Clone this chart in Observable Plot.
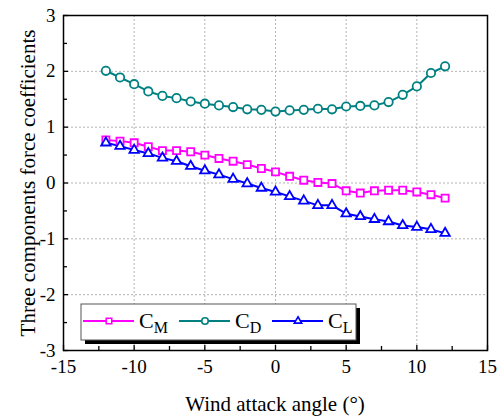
<!DOCTYPE html>
<html><head><meta charset="utf-8">
<script src="https://cdn.jsdelivr.net/npm/d3@7"></script>
<script src="https://cdn.jsdelivr.net/npm/@observablehq/plot@0.6"></script>
<style>
body{margin:0;background:#fff}
#chart{position:relative;width:501px;height:418px}
</style>
</head><body><div id="chart"></div>
<script>
const angles = [-12,-11,-10,-9,-8,-7,-6,-5,-4,-3,-2,-1,0,1,2,3,4,5,6,7,8,9,10,11,12];
const CM = [0.77,0.75,0.72,0.65,0.58,0.58,0.56,0.50,0.44,0.39,0.33,0.26,0.20,0.12,0.05,0.01,-0.01,-0.14,-0.18,-0.14,-0.13,-0.13,-0.16,-0.21,-0.27];
const CD = [2.01,1.89,1.77,1.64,1.56,1.52,1.46,1.42,1.39,1.36,1.32,1.31,1.28,1.30,1.31,1.33,1.32,1.37,1.38,1.39,1.45,1.58,1.73,1.97,2.09];
const CL = [0.72,0.66,0.59,0.53,0.45,0.39,0.30,0.22,0.15,0.07,-0.01,-0.09,-0.16,-0.24,-0.32,-0.40,-0.40,-0.55,-0.60,-0.65,-0.69,-0.76,-0.79,-0.83,-0.90];
const seriesSubs = ["M","D","L"];
const seriesValues = [CM, CD, CL];
const seriesColors = ["#ff00ff","#008080","#0000ff"];
const seriesSymbols = ["square","circle","triangle"];
const seriesR = [4, 4.2, 3.5];
const xTicks = [-15,-10,-5,0,5,10,15];
const yTicks = [-3,-2,-1,0,1,2,3];
const xMinor = [-12.5,-7.5,-2.5,2.5,7.5,12.5];
const yMinor = [-2.5,-1.5,-0.5,0.5,1.5,2.5];
const xTitle = "Wind attack angle (°)";
const yTitle = "Three components force coefficients";
const FONT = "'Liberation Serif', 'Times New Roman', serif";

const series = seriesSubs.map((s,k)=>({
  sub:s, color:seriesColors[k], symbol:seriesSymbols[k], r:seriesR[k],
  rows: angles.map((a,i)=>({angle:a, value:seriesValues[k][i]}))
}));
const fmt = d => String(d);

const marks = [
  Plot.gridX(xTicks.slice(1,-1), {stroke:"#b4b4b4", strokeOpacity:1, strokeDasharray:"2,2"}),
  Plot.gridY(yTicks.slice(1,-1), {stroke:"#b4b4b4", strokeOpacity:1, strokeDasharray:"2,2"}),
];
for (const s of series) {
  marks.push(Plot.line(s.rows, {x:"angle", y:"value", stroke:s.color, strokeWidth:2}));
}
for (const s of series) {
  marks.push(Plot.dot(s.rows, {x:"angle", y:"value", symbol:()=>s.symbol, r:s.r, stroke:s.color, strokeWidth:1.8, fill:"white"}));
}
marks.push(
  Plot.frame({stroke:"black", strokeWidth:1.5}),
  Plot.axisX(xTicks, {tickSize:0, tickPadding:9, tickFormat:fmt, fontSize:19, fill:"black"}),
  Plot.axisY(yTicks, {tickSize:0, tickPadding:8, tickFormat:fmt, fontSize:19, fill:"black"}),
  Plot.axisX(xTicks, {tickSize:-5, tickFormat:()=>"", strokeWidth:1.3}),
  Plot.axisY(yTicks, {tickSize:-5, tickFormat:()=>"", strokeWidth:1.3}),
  Plot.axisX(xMinor, {tickSize:-4, tickFormat:()=>"", strokeWidth:1.3}),
  Plot.axisY(yMinor, {tickSize:-4, tickFormat:()=>"", strokeWidth:1.3})
);

const svg = Plot.plot({
  width:501, height:418,
  marginLeft:63, marginRight:14, marginTop:15, marginBottom:68,
  x:{domain:[-15,15], label:null},
  y:{domain:[-3,3], label:null},
  style:{fontSize:"19px", color:"black", background:"white"},
  marks
});
document.getElementById("chart").appendChild(svg);
const S = d3.select(svg);

// Axis titles
S.append("text").attr("x",275).attr("y",404).attr("text-anchor","middle").attr("dominant-baseline","central")
  .attr("font-size",21).attr("fill","black").text(xTitle);
S.append("text").attr("transform","translate(28,183) rotate(-90)").attr("text-anchor","middle").attr("dominant-baseline","central")
  .attr("font-size",21).attr("fill","black").text(yTitle);

// Legend
const lg = S.append("g").attr("transform","translate(81,304)");
lg.append("rect").attr("x",4).attr("y",4).attr("width",275).attr("height",36).attr("fill","black");
lg.append("rect").attr("x",0).attr("y",0).attr("width",275).attr("height",36).attr("fill","white").attr("stroke","#555").attr("stroke-width",1);
const entryX = [2, 98, 191];
const symMap = {square:d3.symbolSquare, circle:d3.symbolCircle, triangle:d3.symbolTriangle};
series.forEach((s,k)=>{
  const g = lg.append("g").attr("transform",`translate(${entryX[k]},17)`);
  g.append("line").attr("x1",0).attr("x2",51).attr("y1",0).attr("y2",0).attr("stroke",s.color).attr("stroke-width",2);
  const size = Math.PI*(s.r*0.78)**2;
  g.append("path").attr("d", d3.symbol(symMap[s.symbol], size)()).attr("transform","translate(26,0)")
    .attr("fill","white").attr("stroke",s.color).attr("stroke-width",1.6);
  const t = g.append("text").attr("x",56).attr("y",7).attr("text-anchor","start").attr("font-size",22).attr("fill","black");
  t.append("tspan").text("C");
  t.append("tspan").attr("dy",5).attr("font-size",16).text(s.sub);
});

svg.style.fontFamily = FONT;
svg.setAttribute("font-family", FONT);
svg.querySelectorAll("g, text").forEach(el => { el.style.fontFamily = FONT; });
</script></body></html>
